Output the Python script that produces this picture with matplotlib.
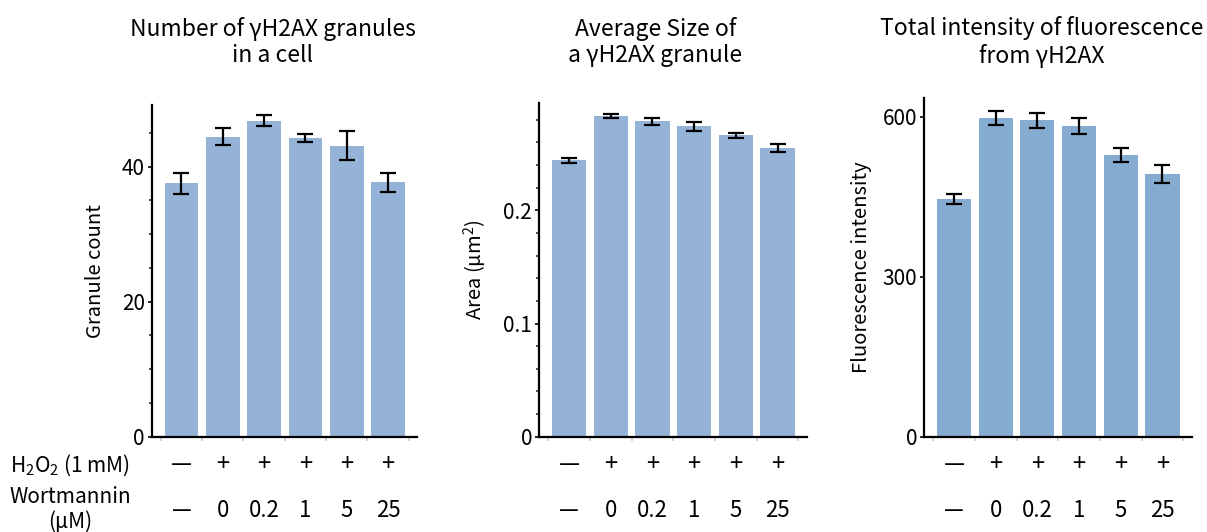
import matplotlib
matplotlib.use('Agg')
import matplotlib.pyplot as plt
import matplotlib.transforms as mtransforms
from matplotlib.ticker import MultipleLocator

plt.rcParams['font.family'] = ['Noto Sans CJK JP', 'DejaVu Sans']
plt.rcParams['mathtext.fontset'] = 'custom'
plt.rcParams['mathtext.rm'] = 'Noto Sans CJK JP'

# data
h2o2_labels = ['\u2014', '+', '+', '+', '+', '+']
wort_labels = ['\u2014', '0', '0.2', '1', '5', '25']

count_mean = [37.5, 44.4, 46.8, 44.2, 43.1, 37.7]
count_err = [1.6, 1.25, 0.85, 0.6, 2.1, 1.4]

area_mean = [0.2441, 0.2830, 0.2786, 0.2740, 0.2660, 0.2547]
area_err = [0.0020, 0.0020, 0.0030, 0.0038, 0.0026, 0.0034]

fluor_mean = [445.7, 597.0, 593.0, 582.5, 527.5, 492.5]
fluor_err = [10.0, 12.5, 14.5, 14.5, 13.0, 16.5]

panels = [
    dict(title='Number of \u03b3H2AX granules\nin a cell', ylabel='Granule count',
         mean=count_mean, err=count_err, ylim=49.1, major=20, minor=5,
         color='#95b3d7', rect=[0.1257, 0.179, 0.2198, 0.6236],
         title_x=0.226, label_x=-0.172),
    dict(title='Average Size of\na \u03b3H2AX granule', ylabel='Area (\u03bcm$^\\mathregular{2}$)',
         mean=area_mean, err=area_err, ylim=0.2945, major=0.1, minor=0.02,
         color='#95b3d7', rect=[0.4466, 0.179, 0.2218, 0.627],
         title_x=0.543, label_x=-0.187),
    dict(title='Total intensity of fluorescence\nfrom \u03b3H2AX', ylabel='Fluorescence intensity',
         mean=fluor_mean, err=fluor_err, ylim=634, major=300, minor=None,
         color='#86abd0', rect=[0.7655, 0.179, 0.2218, 0.636],
         title_x=0.863, label_x=-0.194),
]

fig = plt.figure(figsize=(12.07, 5.32), dpi=100)
x = list(range(len(h2o2_labels)))

for p in panels:
    ax = fig.add_axes(p['rect'])
    ax.bar(x, p['mean'], width=0.82, color=p['color'], zorder=1)
    ax.errorbar(x, p['mean'], yerr=p['err'], fmt='none', ecolor='black',
                elinewidth=1.6, capsize=5.8, capthick=1.6, zorder=3)
    ax.set_xlim(-0.72, 5.7)
    ax.set_ylim(0, p['ylim'])
    for side in ['top', 'right']:
        ax.spines[side].set_visible(False)
    for side in ['left', 'bottom']:
        ax.spines[side].set_linewidth(1.6)
    ax.yaxis.set_major_locator(MultipleLocator(p['major']))
    if p['minor']:
        ax.yaxis.set_minor_locator(MultipleLocator(p['minor']))
        ax.tick_params(axis='y', which='minor', length=2, width=1.2, color='#333333')
    ax.tick_params(axis='y', which='major', length=3, width=1.2, labelsize=15, pad=2)
    ax.yaxis.set_major_formatter(plt.FuncFormatter(lambda v, pos: f'{v:g}'))
    ax.set_xticks([-0.5, 0.5, 1.5, 2.5, 3.5, 4.5, 5.5])
    ax.set_xticklabels([])
    ax.tick_params(axis='x', length=3, width=1.2, color='#cccccc')
    ax.get_xticklines()[0].set_color('black')
    ax.set_ylabel(p['ylabel'], fontsize=14.5)
    ax.yaxis.set_label_coords(p['label_x'], 0.5)
    fig.text(p['title_x'], 0.921, p['title'], ha='center', va='center',
             fontsize=16.5, linespacing=1.2)
    trans = mtransforms.blended_transform_factory(ax.transData, fig.transFigure)
    for xi, h, w in zip(x, h2o2_labels, wort_labels):
        ax.text(xi, 0.126, h, transform=trans, ha='center', va='center', fontsize=17)
        ax.text(xi, 0.041, w, transform=trans, ha='center', va='center', fontsize=16)

fig.text(0.008, 0.126, 'H$_\\mathregular{2}$O$_\\mathregular{2}$ (1 mM)',
         ha='left', va='center', fontsize=15)
fig.text(0.058, 0.066, 'Wortmannin', ha='center', va='center', fontsize=15)
fig.text(0.058, 0.019, '(\u03bcM)', ha='center', va='center', fontsize=15)

fig.savefig('out.png', dpi=100)
